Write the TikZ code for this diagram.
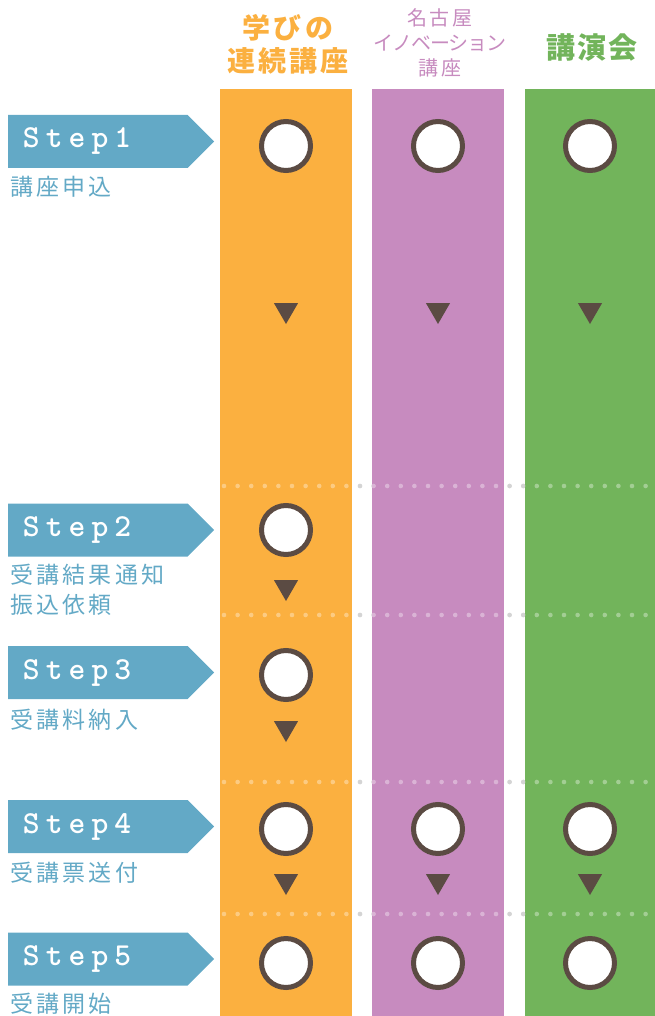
\documentclass[tikz,border=0pt]{standalone}
\usepackage{fontspec}
\newfontfamily\jpfont{Noto Sans CJK JP}
\newfontfamily\stepfont{lmmonolt10-bold.otf}[LetterSpace=19]
\usetikzlibrary{shapes.symbols,shapes.geometric}
\definecolor{manabi}{HTML}{FBB040}
\definecolor{nagoya}{HTML}{C78BBF}
\definecolor{koen}{HTML}{72B45B}
\definecolor{stepblue}{HTML}{63A9C6}
\definecolor{ringbrown}{HTML}{5B4B43}
\definecolor{dotgray}{HTML}{BDBDBD}

\begin{document}
\begin{tikzpicture}[x=1pt, y=-1pt]
    \tikzset{
        column/.style = {rectangle, minimum width=132, minimum height=927, inner sep=0, anchor=north},
        head/.style = {align=center, inner sep=0},
        stepbox/.style = {signal, signal to=east, signal pointer angle=90, fill=stepblue, text=white,
                          minimum height=53, minimum width=206, anchor=west, inner xsep=13, inner ysep=0,
                          text width=150, align=left,
                          font=\stepfont\fontsize{32}{32}\selectfont},
        steptext/.style = {anchor=west, inner sep=0, text=stepblue, align=left,
                           font=\jpfont\fontsize{23}{30}\selectfont\addfontfeatures{LetterSpace=14}},
        ring/.style = {circle, draw=ringbrown, line width=5, fill=white, minimum size=49, inner sep=0},
        tri/.style = {regular polygon, regular polygon sides=3, shape border rotate=180, fill=ringbrown,
                      minimum size=28, inner sep=0},
        sep/.style = {line width=4.6, line cap=round, dash pattern=on 0pt off 13.6pt},
    }
    \useasboundingbox (0,0) rectangle (655,1016);

    % separators behind the columns
    \coordinate (sepA1) at (224,486);  \coordinate (sepA2) at (655,486);
    \coordinate (sepB1) at (224,615);  \coordinate (sepB2) at (655,615);
    \coordinate (sepC1) at (224,782);  \coordinate (sepC2) at (655,782);
    \coordinate (sepD1) at (224,914);  \coordinate (sepD2) at (655,914);
    \draw [sep, dotgray] (sepA1) -- (sepA2);
    \draw [sep, dotgray] (sepB1) -- (sepB2);
    \draw [sep, dotgray] (sepC1) -- (sepC2);
    \draw [sep, dotgray] (sepD1) -- (sepD2);

    \node (colmanabi) [column, fill=manabi] at (286,89) {};
    \node (colnagoya) [column, fill=nagoya] at (438,89) {};
    \node (colkoen) [column, fill=koen, minimum width=130] at (590,89) {};

    \draw [sep, white, opacity=0.35] (sepA1) -- (sepA2);
    \draw [sep, white, opacity=0.35] (sepB1) -- (sepB2);
    \draw [sep, white, opacity=0.35] (sepC1) -- (sepC2);
    \draw [sep, white, opacity=0.35] (sepD1) -- (sepD2);

    % headings
    \node (hmanabi) [head, text=manabi, font=\jpfont\bfseries\fontsize{28}{33}\selectfont\addfontfeatures{LetterSpace=11}]
        at (288,44.5) {学びの\\連続講座};
    \node (hnagoya) [head, text=nagoya, font=\jpfont\fontsize{20}{25}\selectfont] at (440,43)
        {{\addfontfeatures{LetterSpace=15}名古屋}\\{\addfontfeatures{LetterSpace=-6}イノベーション}\\{\addfontfeatures{LetterSpace=15}講座}};
    \node (hkoen) [head, text=koen, font=\jpfont\bfseries\fontsize{29}{33}\selectfont\addfontfeatures{LetterSpace=6}]
        at (592,48) {講演会};

    % steps
    \node (step1) [stepbox] at (8,141.5) {Step1};
    \node (step2) [stepbox] at (8,530) {Step2};
    \node (step3) [stepbox] at (8,672.5) {Step3};
    \node (step4) [stepbox] at (8,826.5) {Step4};
    \node (step5) [stepbox] at (8,959) {Step5};

    \node (txt1) [steptext] at (10,187) {講座申込};
    \node (txt2) [steptext] at (10,590) {受講結果通知\\振込依頼};
    \node (txt3) [steptext] at (10,720) {受講料納入};
    \node (txt4) [steptext] at (10,873) {受講票送付};
    \node (txt5) [steptext] at (10,1004) {受講開始};

    % marks
    \node (m1a) [ring] at (286,146) {};
    \node (m1b) [ring] at (438,146) {};
    \node (m1c) [ring] at (590,146) {};
    \node (t1a) [tri] at (286,310) {};
    \node (t1b) [tri] at (438,310) {};
    \node (t1c) [tri] at (590,310) {};

    \node (m2a) [ring] at (286,530) {};
    \node (t2a) [tri] at (286,587) {};

    \node (m3a) [ring] at (286,675) {};
    \node (t3a) [tri] at (286,728) {};

    \node (m4a) [ring] at (286,829) {};
    \node (m4b) [ring] at (438,829) {};
    \node (m4c) [ring] at (590,829) {};
    \node (t4a) [tri] at (286,881) {};
    \node (t4b) [tri] at (438,881) {};
    \node (t4c) [tri] at (590,881) {};

    \node (m5a) [ring] at (286,963) {};
    \node (m5b) [ring] at (438,963) {};
    \node (m5c) [ring] at (590,963) {};
\end{tikzpicture}
\end{document}
